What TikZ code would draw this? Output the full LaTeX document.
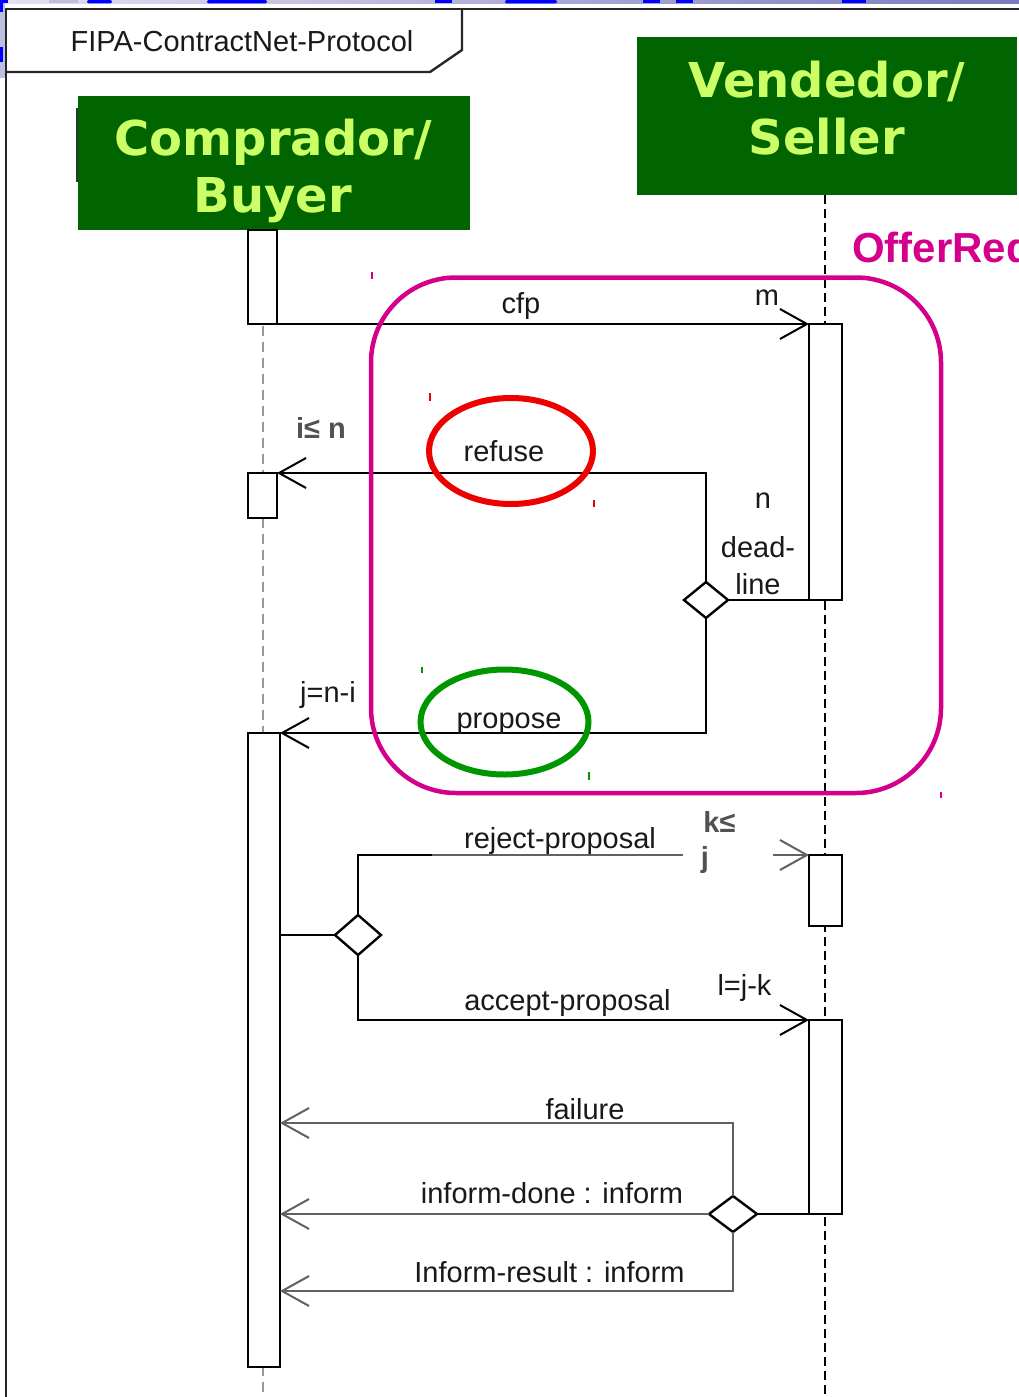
\documentclass[tikz,border=0pt]{standalone}
\usepackage{fontspec}
\setmainfont{Liberation Sans}
\newfontfamily\hdrfont{DejaVu Sans}
\usetikzlibrary{arrows.meta,shapes.geometric}
\definecolor{hdrgreen}{RGB}{0,100,0}
\definecolor{hdrtext}{RGB}{204,255,102}
\definecolor{magc}{RGB}{212,0,140}
\definecolor{redc}{RGB}{238,0,0}
\definecolor{grnc}{RGB}{0,150,0}
\definecolor{bluebit}{RGB}{0,0,255}
\definecolor{lavl}{RGB}{226,226,242}
\definecolor{lavd}{RGB}{122,122,190}
\definecolor{lavm}{RGB}{190,190,226}
\begin{document}
\begin{tikzpicture}[x=1pt,y=-1pt,
  lbl/.style={font=\fontsize{29}{34}\selectfont, text=black!90, inner sep=0, anchor=base},
  grylbl/.style={lbl, font=\bfseries\fontsize{29}{34}\selectfont, text=black!68},
  hdrlbl/.style={font=\hdrfont\bfseries\fontsize{48}{57}\selectfont, text=hdrtext, inner sep=0, anchor=base},
  hdrbox/.style={fill=hdrgreen, inner sep=0, outer sep=0},
  bar/.style={draw, fill=white, line width=2pt, inner sep=0, outer sep=0},
  choice/.style={diamond, draw, fill=white, line width=2.4pt, inner sep=0, outer sep=0},
  ln/.style={line width=2pt},
  msg/.style={line width=2pt, -{Straight Barb[length=27pt,width=30pt,line width=2pt]}},
  msggray/.style={msg, draw=black!62},
  lifebuyer/.style={line width=2.4pt, black!40, dash pattern=on 10pt off 6pt},
  lifeseller/.style={line width=1.8pt, black, dash pattern=on 9pt off 5pt},
  tick/.style={line width=1.5pt}
]
\useasboundingbox (0,0) rectangle (1019,1397);
\fill[white] (0,0) rectangle (1019,1397);

% cut-off background at the top and left edge
\shade[left color=lavl, right color=lavd] (0,0) rectangle (1019,3.5);
\fill[lavm] (0,0) rectangle (5,78);
\fill[lavm] (49,0) rectangle (78,3.5);
\fill[bluebit] (0,0) rectangle (8,3.5);
\fill[bluebit] (0,0) rectangle (3,12);
\fill[bluebit] (0,47) rectangle (2.5,62);
\fill[bluebit, rounded corners=2pt] (87,0) rectangle (112,3.5);
\fill[bluebit, rounded corners=2pt] (207,0) rectangle (267,3.5);
\fill[bluebit] (435,0) rectangle (452,3.5);
\fill[bluebit, rounded corners=2pt] (505,0) rectangle (557,3.5);
\fill[bluebit] (643,0) rectangle (660,3.5);
\fill[bluebit] (676,0) rectangle (693,3.5);
\fill[bluebit] (842,0) rectangle (866,3.5);

% frame
\draw[line width=2.8pt, black!85] (6,1397) -- (6,9) -- (1019,9);
\draw[line width=2.4pt, black!85] (6,72) -- (430,72) -- (462,50) -- (462,9);
\node[lbl] (title) at (242,52) {FIPA-ContractNet-Protocol};

% headers
\draw[line width=1.5pt, black!80] (77,108) -- (77,182);
\node[hdrbox, minimum width=392pt, minimum height=134pt] (buyer) at (274,163) {};
\node[hdrlbl] (buyer1) at (273,155) {Comprador/};
\node[hdrlbl] (buyer2) at (273,212) {Buyer};
\node[hdrbox, minimum width=380pt, minimum height=158pt] (seller) at (827,116) {};
\node[hdrlbl] (seller1) at (827,97) {Vendedor/};
\node[hdrlbl] (seller2) at (827,154) {Seller};

% lifelines
\coordinate (bl) at (263,1397);
\coordinate (sl) at (825,1397);
\draw[lifebuyer] (bl |- buyer.south) -- (bl);
\draw[lifeseller] (sl |- seller.south) -- (sl);

% activation bars
\node[bar, minimum width=29pt, minimum height=94pt] (bA) at (262.5,277) {};
\node[bar, minimum width=29pt, minimum height=45pt] (bB) at (262.5,495.5) {};
\node[bar, minimum width=32pt, minimum height=634pt] (bC) at (264,1050) {};
\node[bar, minimum width=33pt, minimum height=276pt] (sA) at (825.5,462) {};
\node[bar, minimum width=33pt, minimum height=71pt] (sB) at (825.5,890.5) {};
\node[bar, minimum width=33pt, minimum height=194pt] (sC) at (825.5,1117) {};

% choice diamonds
\node[choice, minimum width=44pt, minimum height=36pt] (d1) at (706,600) {};
\node[choice, minimum width=46pt, minimum height=40pt] (d2) at (358,935) {};
\node[choice, minimum width=48pt, minimum height=36pt] (d3) at (733,1214) {};

% messages
\draw[msg] (bA.south east) -- (sA.north west);
\draw[msg] (d1.north) |- (bB.north east);
\draw[ln] (d1.east) -- (d1.east -| sA.west);
\draw[msg] (d1.south) |- (bC.north east);
\draw[ln] (d2.west -| bC.east) -- (d2.west);
\coordinate (rk) at (432,0);
\draw[msggray] (d2.north) |- (sB.north west);
\draw[ln] (d2.north) |- (rk |- sB.north);
\draw[msg] (d2.south) |- (sC.north west);
\draw[ln] (sC.south west) -- (d3.east);
\coordinate (f1) at (280,1123);
\coordinate (f3) at (280,1291);
\draw[msggray] (d3.north) |- (f1);
\draw[msggray] (d3.west) -- (d3.west -| bC.east);
\draw[msggray] (d3.south) |- (f3);

% offer region and highlight ellipses
\draw[magc, line width=4.5pt, rounded corners=85pt] (371,277.5) rectangle (941,793);
\draw[redc, line width=6pt] (511,451) ellipse [x radius=82pt, y radius=53pt];
\draw[grnc, line width=6pt] (504.5,722) ellipse [x radius=84pt, y radius=52.5pt];
\draw[redc, tick] (430,393) -- (430,401);
\draw[redc, tick] (594,500) -- (594,507);
\draw[grnc, tick] (422,667) -- (422,673);
\draw[grnc, tick] (589,772) -- (589,780);
\draw[magc, tick] (372,272) -- (372,279);
\draw[magc, tick] (941,792) -- (941,798);

\begin{scope}
\clip (0,0) rectangle (1019,1397);
\node[font=\bfseries\fontsize{42}{48}\selectfont, text=magc, inner sep=0, anchor=base west] (offer) at (852,262) {OfferRequest};
\end{scope}

% labels
\node[lbl] (lcfp) at (521,313) {cfp};
\node[lbl] (lm) at (767,305) {m};
\node[lbl] (lrefuse) at (504,461) {refuse};
\node[grylbl] (li) at (321,438) {i≤ n};
\node[lbl] (ln) at (763,508) {n};
\node[lbl] (ldead) at (758,557) {dead-};
\node[lbl] (lline) at (758,594) {line};
\node[lbl] (lpropose) at (509,728) {propose};
\node[lbl] (lj) at (328,702) {j=n-i};
\fill[white] (683,850) rectangle (773,862);
\node[lbl] (lreject) at (560,848) {reject-proposal};
\node[grylbl] (lk1) at (719.5,832) {k≤};
\node[grylbl] (lk2) at (705,867) {j};
\node[lbl] (laccept) at (567.5,1010) {accept-proposal};
\node[lbl] (ll) at (744.5,995) {l=j-k};
\node[lbl] (lfail) at (585,1119) {failure};
\node[lbl] (ldone) at (552,1203) {inform-done : inform};
\node[lbl] (lresult) at (549.5,1282) {Inform-result : inform};
\end{tikzpicture}
\end{document}
